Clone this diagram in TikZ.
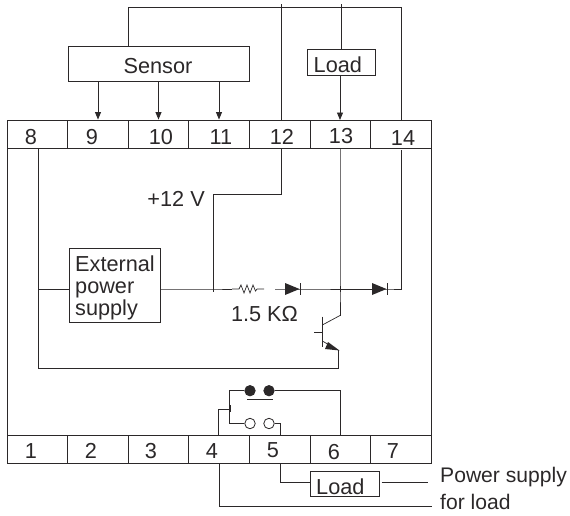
\documentclass[tikz,border=0pt]{standalone}
\usepackage{fontspec}
\setmainfont{Liberation Sans}
\usetikzlibrary{arrows.meta,positioning}
\definecolor{ink}{HTML}{2B2829}
\tikzset{
  wire/.style={draw=ink,line width=0.9pt},
  arr/.style={wire,-{Triangle[length=7.5pt,width=6pt]},shorten >=0pt},
  cell/.style={draw=ink,line width=0.9pt,rectangle,inner sep=0pt,minimum width=60.5pt,minimum height=28pt},
  boxed/.style={draw=ink,line width=0.9pt,rectangle,inner sep=0pt},
  txt/.style={inner sep=0pt,text=ink,font=\fontsize{21.7pt}{23pt}\selectfont},
  txtsmall/.style={inner sep=0pt,text=ink,font=\fontsize{21.1pt}{23pt}\selectfont},
  term/.style={txt,anchor=base},
  tick/.style={draw=ink,line width=0.7pt},
  closed/.style={circle,fill=ink,draw=ink,line width=0.7pt,inner sep=0pt,minimum size=10.5pt},
  open/.style={circle,fill=white,draw=ink,line width=0.8pt,inner sep=0pt,minimum size=10.5pt},
  dio/.style={fill=ink,draw=none}
}
\begin{document}
\begin{tikzpicture}[x=1pt,y=-1pt]
\useasboundingbox (0,0) rectangle (570,515);
% outer
\coordinate (outerTL) at (7,148);
\coordinate (outerBL) at (7,436);
\coordinate (outerTR) at (431,148);
\coordinate (outerBR) at (431,436);
\draw[wire] (outerTL)--(outerBL) (outerTR)--(outerBR);
% top terminals
\node[cell] (c8) at (37.5,134) {};
\node[cell] (c9) at (98,134) {};
\node[cell] (c10) at (158.5,134) {};
\node[cell] (c11) at (219,134) {};
\node[cell] (c12) at (279.75,134) {};
\node[cell] (c13) at (340.5,134) {};
\node[cell] (c14) at (401,134) {};
\node[term] (n8) at (31,144) {8};
\node[term] (n9) at (92,144) {9};
\node[term] (n10) at (161,144) {10};
\node[term] (n11) at (221,144) {11};
\node[term] (n12) at (282,144) {12};
\node[term] (n13) at (341,143) {13};
\node[term] (n14) at (403,145) {14};
% bottom terminals
\node[cell] (b1) at (37.5,449.5) {};
\node[cell] (b2) at (98,449.5) {};
\node[cell] (b3) at (158.5,449.5) {};
\node[cell] (b4) at (219,449.5) {};
\node[cell] (b5) at (279.75,449.5) {};
\node[cell] (b6) at (340.5,449.5) {};
\node[cell] (b7) at (401,449.5) {};
\node[term] (m1) at (31,458) {1};
\node[term] (m2) at (91,458) {2};
\node[term] (m3) at (151,458) {3};
\node[term] (m4) at (212,458.5) {4};
\node[term] (m5) at (273,457.5) {5};
\node[term] (m6) at (334,459) {6};
\node[term] (m7) at (393,458) {7};
% sensor
\node[boxed,minimum width=181.5pt,minimum height=35.5pt] (sensor) at (158.75,63.75) {};
\node[txt,anchor=base] (sensortxt) at (158,73) {Sensor};
\draw[arr] (sensor.south -| c9) -- (c9.north);
\draw[arr] (sensor.south -| c10) -- (c10.north);
\draw[arr] (sensor.south -| c11) -- (c11.north);
\coordinate (stop) at (128.5,7);
\coordinate (r14) at (401,7);
\draw[wire] (128.5,46) -- (stop) -- (r14) -- (r14 |- c14.north);
% 12 line
\coordinate (top12) at (281,4);
\draw[wire] (top12) -- (281,120);
\coordinate (v12) at (213,194);
\coordinate (c12a) at (281,194);
\draw[wire] (281,148) -- (c12a) -- (v12);
\node[txt,anchor=base east] (v12txt) at (205,206) {+12 V};
% load top
\node[boxed,minimum width=68.5pt,minimum height=26pt] (load1) at (341.25,62.5) {};
\node[txt,anchor=base west] (load1txt) at (313.5,72) {Load};
\coordinate (top13) at (341,4);
\draw[wire] (top13) -- (341,49.5);
\draw[arr] (340,75.5) -- (340,120);
% external supply
\node[boxed,minimum width=91pt,minimum height=74pt] (ps) at (114.5,285) {};
\node[txt,anchor=base west] (pstxt1) at (75,271.5) {External};
\node[txt,anchor=base west] (pstxt2) at (75,293.5) {power};
\node[txt,anchor=base west] (pstxt3) at (75,315.5) {supply};
% main rail
\coordinate (j8) at (38.5,289);
\coordinate (j12) at (213,289);
\coordinate (j13) at (340,289);
\coordinate (rA) at (232,289);
\coordinate (rB) at (264,289);
\coordinate (d1a) at (275,289);
\coordinate (d1k) at (300,289);
\coordinate (d2a) at (362,289);
\coordinate (d2k) at (387,289);
\coordinate (r14b) at (401,289);
\draw[wire] (38,148) -- (38,368.5) -- (338.7,368.5) -- (338.7,350);
\draw[wire] (j8) -- (ps.west |- j8);
\draw[wire] (ps.east |- j8) -- (j12) -- (rA);
\draw[wire,line width=0.7pt] (rA) -- (239,289) -- (241,285) -- (244,293) -- (247,285) -- (250,293) -- (253,285) -- (255.5,291) -- (257,289) -- (rB);
\draw[wire] (d1a) -- (d1k) -- (d2a);
\draw[wire] (d2a) -- (d2k) -- (r14b) -- (401,150);
\draw[wire] (v12) -- (j12);
\draw[wire] (340,148) -- (j13) -- (340,315.5);
\draw[dio] (285,283) -- (299.5,289) -- (285,295) -- cycle;
\draw[tick] (300,283) -- (300,295);
\draw[dio] (372,283) -- (386.5,289) -- (372,295) -- cycle;
\draw[tick] (387,283) -- (387,295);
\draw[tick] (j8)++(0,-3) -- ++(0,6);
\draw[tick] (j12)++(0,-3) -- ++(0,6);
\draw[tick] (j13)++(0,-3) -- ++(0,6);
\node[txt,anchor=base] (rtxt) at (264.5,321) {1.5 KΩ};
% transistor
\draw[wire] (322.3,316.7) -- (322.3,347);
\draw[wire,line width=0.7pt] (314,332.3) -- (322.3,332.3);
\draw[wire,line width=0.7pt] (322.3,325) -- (340,315.5);
\draw[wire,line width=0.7pt] (322.3,341) -- (332,346.5);
\draw[dio] (328,342) -- (339.5,350.5) -- (325,349) -- cycle;
% contacts
\node[closed] (k1) at (250,390.7) {};
\node[closed] (k2) at (269,390.7) {};
\node[open] (o1) at (250,423.5) {};
\node[open] (o2) at (269,423.5) {};
\coordinate (kbarA) at (247,399);
\coordinate (kbarB) at (273,399);
\draw[wire] (kbarA) -- (kbarB);
\coordinate (sw) at (229.5,409);
\draw[wire] (k1.west) -- (229.5,390.7) -- (229.5,423.5) -- (o1.west);
\draw[wire] (k2.east) -- (340,390.7) -- (340,435.5);
\draw[wire] (o2.east) -- (280,423.5) -- (280,435.5);
\draw[wire] (218,435.5) -- (218,409) -- (sw);
\draw[tick] (230,405) -- (230,412);
% lower load
\node[boxed,minimum width=69pt,minimum height=25.7pt] (load2) at (345.2,483.9) {};
\node[txt,anchor=base west] (load2txt) at (316,494) {Load};
\draw[wire] (280,463.5) -- (280,482) -- (load2.west |- 0,482);
\coordinate (sup1) at (428,482);
\coordinate (sup2) at (431.7,506.5);
\draw[wire] (381.7,482) -- (sup1);
\draw[wire] (219.5,463.5) -- (219.5,506.5) -- (sup2);
\node[txtsmall,anchor=base west] (suptxt1) at (440,482) {Power supply};
\node[txtsmall,anchor=base west] (suptxt2) at (440,509.5) {for load};
\end{tikzpicture}
\end{document}
